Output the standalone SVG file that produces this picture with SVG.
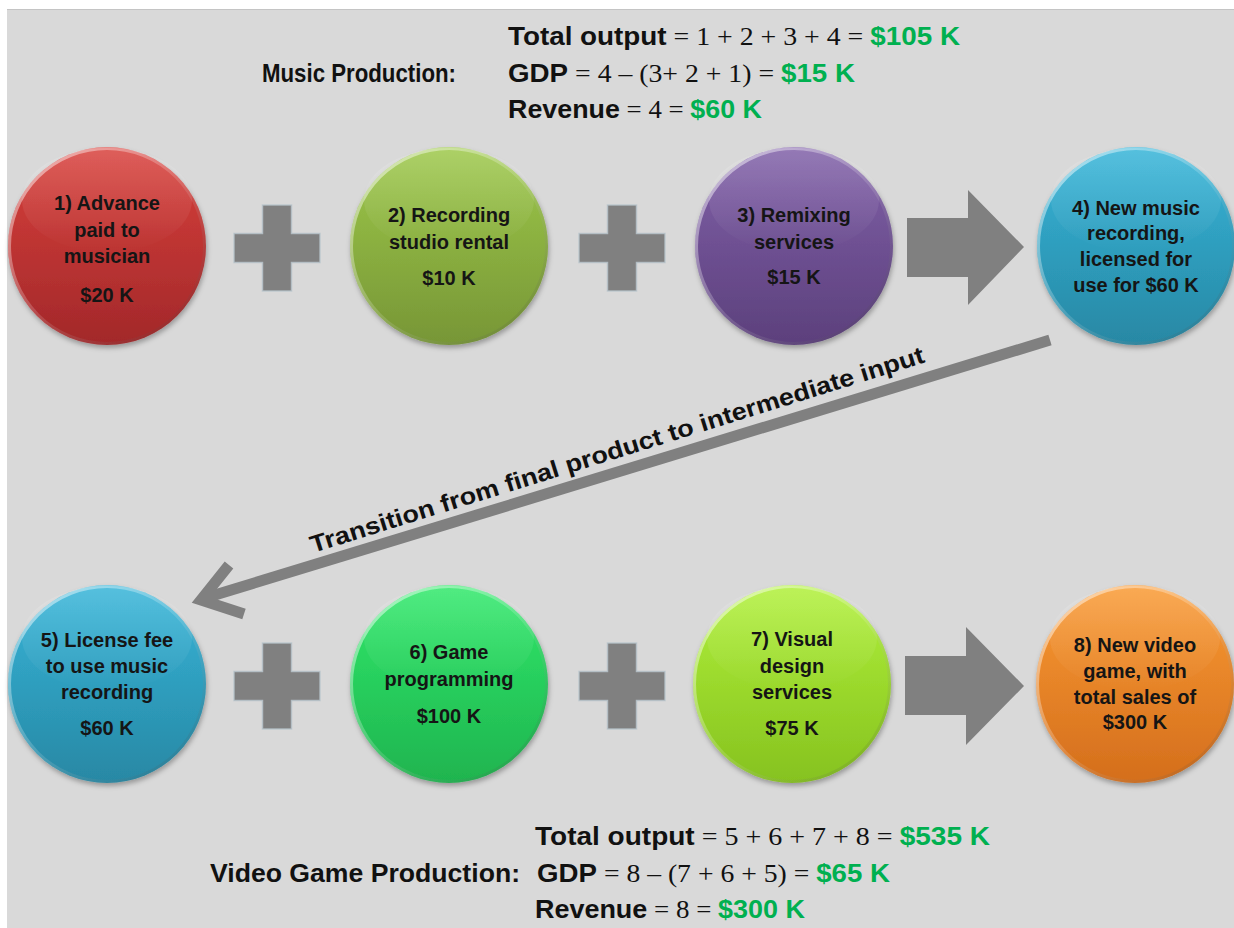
<svg xmlns="http://www.w3.org/2000/svg" width="1234" height="928" viewBox="0 0 1234 928">
<style>
.c{font-family:"Liberation Sans",Arial,sans-serif;font-weight:bold;font-size:20px;fill:#151515;text-anchor:middle}
.eq{font-family:"Liberation Sans",Arial,sans-serif;font-size:25px;fill:#111}
.b{font-weight:bold}
.m{font-family:"Liberation Serif","Times New Roman",serif;font-weight:normal}
.g{font-weight:bold;fill:#00b050}
.tr{font-family:"Liberation Sans",Arial,sans-serif;font-weight:bold;font-size:24px;fill:#111}
.shape{fill:#808080}
.bevel{fill:none;stroke:#b8c4cc;stroke-width:1.5;opacity:0.8}
.gloss{fill:url(#gloss)}
.rim{fill:none;stroke:url(#rim);stroke-width:3}
</style>
<defs>
<linearGradient id="gRed" x1="0" y1="0" x2="0" y2="1"><stop offset="0" stop-color="#d8403b"/><stop offset="1" stop-color="#a2282a"/></linearGradient>
<linearGradient id="gOlive" x1="0" y1="0" x2="0" y2="1"><stop offset="0" stop-color="#9dc84a"/><stop offset="1" stop-color="#779636"/></linearGradient>
<linearGradient id="gPurple" x1="0" y1="0" x2="0" y2="1"><stop offset="0" stop-color="#8060a8"/><stop offset="1" stop-color="#5c407c"/></linearGradient>
<linearGradient id="gCyan" x1="0" y1="0" x2="0" y2="1"><stop offset="0" stop-color="#35b4d8"/><stop offset="1" stop-color="#2888a4"/></linearGradient>
<linearGradient id="gGreen" x1="0" y1="0" x2="0" y2="1"><stop offset="0" stop-color="#30e86a"/><stop offset="1" stop-color="#1fb44f"/></linearGradient>
<linearGradient id="gLime" x1="0" y1="0" x2="0" y2="1"><stop offset="0" stop-color="#b0f03a"/><stop offset="1" stop-color="#86c21f"/></linearGradient>
<linearGradient id="gOrange" x1="0" y1="0" x2="0" y2="1"><stop offset="0" stop-color="#f99a34"/><stop offset="1" stop-color="#d46e1c"/></linearGradient>
<linearGradient id="gloss" x1="0" y1="0" x2="0" y2="1"><stop offset="0" stop-color="#fff" stop-opacity="0.16"/><stop offset="1" stop-color="#fff" stop-opacity="0"/></linearGradient>
<linearGradient id="rim" x1="0" y1="0" x2="1" y2="1"><stop offset="0" stop-color="#fff" stop-opacity="0.6"/><stop offset="0.5" stop-color="#fff" stop-opacity="0.15"/><stop offset="1" stop-color="#000" stop-opacity="0.12"/></linearGradient>
<filter id="sh" x="-20%" y="-20%" width="140%" height="140%"><feDropShadow dx="1" dy="3" stdDeviation="2.5" flood-color="#000" flood-opacity="0.3"/></filter>
<path id="plus" d="M-14.5,-43 H14.5 V-14.5 H43 V14.5 H14.5 V43 H-14.5 V14.5 H-43 V-14.5 H-14.5 Z"/>
</defs>

<rect x="0" y="0" width="1234" height="928" fill="#ffffff"/>
<rect x="7" y="9" width="1227" height="919" fill="#d9d9d9"/>
<line x1="7" y1="9.5" x2="1234" y2="9.5" stroke="#c4c4c4" stroke-width="1"/>

<g id="summary-music">
<text x="508" y="45" class="eq" textLength="452" lengthAdjust="spacingAndGlyphs"><tspan class="b">Total output</tspan><tspan class="m"> = 1 + 2 + 3 + 4 = </tspan><tspan class="g">$105 K</tspan></text>
<text x="262" y="82" class="eq b" textLength="194" lengthAdjust="spacingAndGlyphs">Music Production:</text>
<text x="508" y="82" class="eq" textLength="347" lengthAdjust="spacingAndGlyphs"><tspan class="b">GDP</tspan><tspan class="m"> = 4 – (3+ 2 + 1) = </tspan><tspan class="g">$15 K</tspan></text>
<text x="508" y="118" class="eq" textLength="254" lengthAdjust="spacingAndGlyphs"><tspan class="b">Revenue</tspan><tspan class="m"> = 4 = </tspan><tspan class="g">$60 K</tspan></text>
</g>

<g id="summary-game">
<text x="535" y="845" class="eq" textLength="455" lengthAdjust="spacingAndGlyphs"><tspan class="b">Total output</tspan><tspan class="m"> = 5 + 6 + 7 + 8 = </tspan><tspan class="g">$535 K</tspan></text>
<text x="210" y="882" class="eq b" textLength="310" lengthAdjust="spacingAndGlyphs">Video Game Production:</text>
<text x="537" y="882" class="eq" textLength="353" lengthAdjust="spacingAndGlyphs"><tspan class="b">GDP</tspan><tspan class="m"> = 8 – (7 + 6 + 5) = </tspan><tspan class="g">$65 K</tspan></text>
<text x="535" y="918" class="eq" textLength="270" lengthAdjust="spacingAndGlyphs"><tspan class="b">Revenue</tspan><tspan class="m"> = 8 = </tspan><tspan class="g">$300 K</tspan></text>
</g>

<g id="connectors">
<g id="plus1" transform="translate(277,248)"><use href="#plus" class="shape"/><use href="#plus" class="bevel"/></g>
<g id="plus2" transform="translate(622,248)"><use href="#plus" class="shape"/><use href="#plus" class="bevel"/></g>
<g id="arrow1"><path class="shape" d="M907,218 H968 V190 L1024,247 L968,305 V277 H907 Z"/></g>
<g id="plus3" transform="translate(277,686)"><use href="#plus" class="shape"/><use href="#plus" class="bevel"/></g>
<g id="plus4" transform="translate(622,686)"><use href="#plus" class="shape"/><use href="#plus" class="bevel"/></g>
<g id="arrow2"><path class="shape" d="M905,656 H966 V627 L1024,686 L966,745 V715 H905 Z"/></g>
<g id="transition">
<line x1="1050" y1="340" x2="205" y2="598" stroke="#808080" stroke-width="11"/>
<polyline points="229,565 201,600 244,614" fill="none" stroke="#808080" stroke-width="11" stroke-linejoin="miter"/>
<text class="tr" transform="translate(313,553) rotate(-17.3)" textLength="642" lengthAdjust="spacingAndGlyphs">Transition from final product to intermediate input</text>
</g>
</g>

<g id="n1"><g filter="url(#sh)"><circle cx="107" cy="246" r="99" fill="url(#gRed)"/></g><ellipse cx="107" cy="200" rx="85" ry="52" class="gloss"/><circle cx="107" cy="246" r="97.5" class="rim"/>
<text class="c"><tspan x="107" y="210">1) Advance</tspan><tspan x="107" y="237">paid to</tspan><tspan x="107" y="263">musician</tspan><tspan x="107" y="302">$20 K</tspan></text></g>

<g id="n2"><g filter="url(#sh)"><circle cx="449" cy="246" r="99" fill="url(#gOlive)"/></g><ellipse cx="449" cy="200" rx="85" ry="52" class="gloss"/><circle cx="449" cy="246" r="97.5" class="rim"/>
<text class="c"><tspan x="449" y="222">2) Recording</tspan><tspan x="449" y="249">studio rental</tspan><tspan x="449" y="285">$10 K</tspan></text></g>

<g id="n3"><g filter="url(#sh)"><circle cx="794" cy="246" r="99" fill="url(#gPurple)"/></g><ellipse cx="794" cy="200" rx="85" ry="52" class="gloss"/><circle cx="794" cy="246" r="97.5" class="rim"/>
<text class="c"><tspan x="794" y="222">3) Remixing</tspan><tspan x="794" y="249">services</tspan><tspan x="794" y="284">$15 K</tspan></text></g>

<g id="n4"><g filter="url(#sh)"><circle cx="1136" cy="246" r="99" fill="url(#gCyan)"/></g><ellipse cx="1136" cy="200" rx="85" ry="52" class="gloss"/><circle cx="1136" cy="246" r="97.5" class="rim"/>
<text class="c"><tspan x="1136" y="215">4) New music</tspan><tspan x="1136" y="240">recording,</tspan><tspan x="1136" y="266">licensed for</tspan><tspan x="1136" y="292">use for $60 K</tspan></text></g>

<g id="n5"><g filter="url(#sh)"><circle cx="107" cy="684" r="99" fill="url(#gCyan)"/></g><ellipse cx="107" cy="638" rx="85" ry="52" class="gloss"/><circle cx="107" cy="684" r="97.5" class="rim"/>
<text class="c"><tspan x="107" y="647">5) License fee</tspan><tspan x="107" y="673">to use music</tspan><tspan x="107" y="699">recording</tspan><tspan x="107" y="735">$60 K</tspan></text></g>

<g id="n6"><g filter="url(#sh)"><circle cx="449" cy="684" r="99" fill="url(#gGreen)"/></g><ellipse cx="449" cy="638" rx="85" ry="52" class="gloss"/><circle cx="449" cy="684" r="97.5" class="rim"/>
<text class="c"><tspan x="449" y="659">6) Game</tspan><tspan x="449" y="686">programming</tspan><tspan x="449" y="723">$100 K</tspan></text></g>

<g id="n7"><g filter="url(#sh)"><circle cx="792" cy="684" r="99" fill="url(#gLime)"/></g><ellipse cx="792" cy="638" rx="85" ry="52" class="gloss"/><circle cx="792" cy="684" r="97.5" class="rim"/>
<text class="c"><tspan x="792" y="646">7) Visual</tspan><tspan x="792" y="673">design</tspan><tspan x="792" y="699">services</tspan><tspan x="792" y="735">$75 K</tspan></text></g>

<g id="n8"><g filter="url(#sh)"><circle cx="1135" cy="684" r="99" fill="url(#gOrange)"/></g><ellipse cx="1135" cy="638" rx="85" ry="52" class="gloss"/><circle cx="1135" cy="684" r="97.5" class="rim"/>
<text class="c"><tspan x="1135" y="652">8) New video</tspan><tspan x="1135" y="678">game, with</tspan><tspan x="1135" y="704">total sales of</tspan><tspan x="1135" y="729">$300 K</tspan></text></g>
</svg>
